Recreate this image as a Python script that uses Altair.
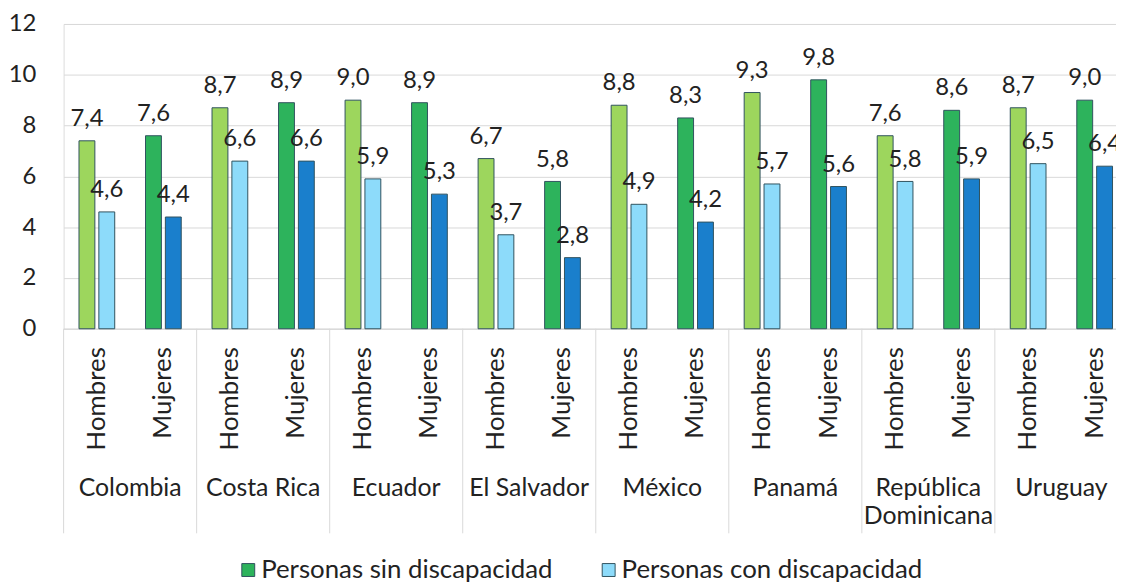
import altair as alt
import pandas as pd

countries = ["Colombia", "Costa Rica", "Ecuador", "El Salvador", "México",
             "Panamá", "República Dominicana", "Uruguay"]
country_labels = ["Colombia", "Costa Rica", "Ecuador", "El Salvador", "México",
                  "Panamá", "República\nDominicana", "Uruguay"]
genders = ["Hombres", "Mujeres"]
series = ["Personas sin discapacidad", "Personas con discapacidad"]

sin_hombres = [7.4, 8.7, 9.0, 6.7, 8.8, 9.3, 7.6, 8.7]
sin_mujeres = [7.6, 8.9, 8.9, 5.8, 8.3, 9.8, 8.6, 9.0]
con_hombres = [4.6, 6.6, 5.9, 3.7, 4.9, 5.7, 5.8, 6.5]
con_mujeres = [4.4, 6.6, 5.3, 2.8, 4.2, 5.6, 5.9, 6.4]

color_keys = [
    "Personas sin discapacidad|Hombres",
    "Personas sin discapacidad|Mujeres",
    "Personas con discapacidad|Hombres",
    "Personas con discapacidad|Mujeres",
]
colors = ["#9DD65D", "#2DB35C", "#8DDBFA", "#1A7FCC"]

vals = {
    ("Personas sin discapacidad", "Hombres"): sin_hombres,
    ("Personas sin discapacidad", "Mujeres"): sin_mujeres,
    ("Personas con discapacidad", "Hombres"): con_hombres,
    ("Personas con discapacidad", "Mujeres"): con_mujeres,
}

rows = []
for i, c in enumerate(countries):
    for g in genders:
        for s in series:
            v = vals[(s, g)][i]
            rows.append({
                "key": f"{c}|{g}",
                "serie": s,
                "ckey": f"{s}|{g}",
                "value": v,
                "lbl": f"{v:.1f}".replace(".", ","),
            })
df = pd.DataFrame(rows)
key_order = [f"{c}|{g}" for c in countries for g in genders]

cdf = pd.DataFrame({"key": [f"{c}|Hombres" for c in countries], "label": country_labels})

FONT = "Lato"
TXT = "#222222"
GRID = "#D9D9D9"
PLOT_H = 307
FS = 25

xscale = alt.Scale(domain=key_order, range=[0, 1072], paddingInner=0, paddingOuter=0)
yscale = alt.Scale(domain=[0, 12])
xoff = alt.XOffset("serie:N", sort=series,
                   scale=alt.Scale(domain=series, paddingInner=0.2, paddingOuter=0.775))

bars = alt.Chart(df).mark_bar(stroke="#30535F", strokeWidth=1).encode(
    x=alt.X("key:N", sort=key_order, scale=xscale, title=None,
            axis=alt.Axis(labelExpr="split(datum.value, '|')[1]", labelAngle=270,
                          labelFontSize=26, labelColor=TXT, labelPadding=18,
                          ticks=False, domainColor=GRID, domainWidth=1, labelFont=FONT)),
    xOffset=xoff,
    y=alt.Y("value:Q", scale=yscale, title=None,
            axis=alt.Axis(values=[0, 2, 4, 6, 8, 10, 12], gridColor=GRID, gridWidth=1,
                          ticks=False, domain=False, labelFontSize=24, labelColor=TXT,
                          labelPadding=28, labelFont=FONT)),
    color=alt.Color("ckey:N", scale=alt.Scale(domain=color_keys, range=colors), title=None,
                    legend=alt.Legend(values=["Personas sin discapacidad|Mujeres",
                                              "Personas con discapacidad|Hombres"],
                                      labelExpr="split(datum.value, '|')[0]",
                                      orient="none", direction="horizontal",
                                      legendX=173, legendY=537,
                                      symbolType="square", symbolSize=169,
                                      symbolStrokeColor="#30535F", symbolStrokeWidth=1,
                                      labelFontSize=26, labelColor=TXT, labelFont=FONT,
                                      labelLimit=0, labelOffset=0, columnPadding=43)),
)

labels = alt.Chart(df).mark_text(baseline="alphabetic", dy=-15, fontSize=24,
                                 font=FONT, color=TXT).encode(
    x=alt.X("key:N", sort=key_order, scale=xscale),
    xOffset=xoff,
    y=alt.Y("value:Q", scale=yscale),
    text="lbl:N",
)

seps = alt.Chart(cdf).mark_rule(color=GRID, strokeWidth=1).encode(
    x=alt.X("key:N", sort=key_order, scale=xscale, bandPosition=0),
    y=alt.value(PLOT_H),
    y2=alt.value(513),
)

clabels = alt.Chart(cdf).mark_text(baseline="middle", align="center", fontSize=FS,
                                   font=FONT, color=TXT, lineBreak="\n",
                                   lineHeight=29).encode(
    x=alt.X("key:N", sort=key_order, scale=xscale, bandPosition=1),
    y=alt.value(467),
    text="label:N",
)

chart = alt.layer(seps, bars, labels, clabels).properties(
    width=1060, height=PLOT_H,
    autosize=alt.AutoSizeParams(type="none"),
    padding={"left": 56, "top": 14, "right": 0, "bottom": 254},
).configure_view(strokeWidth=0).configure(font=FONT)

chart.save("out.html", embed_options={"renderer": "svg", "actions": False})
